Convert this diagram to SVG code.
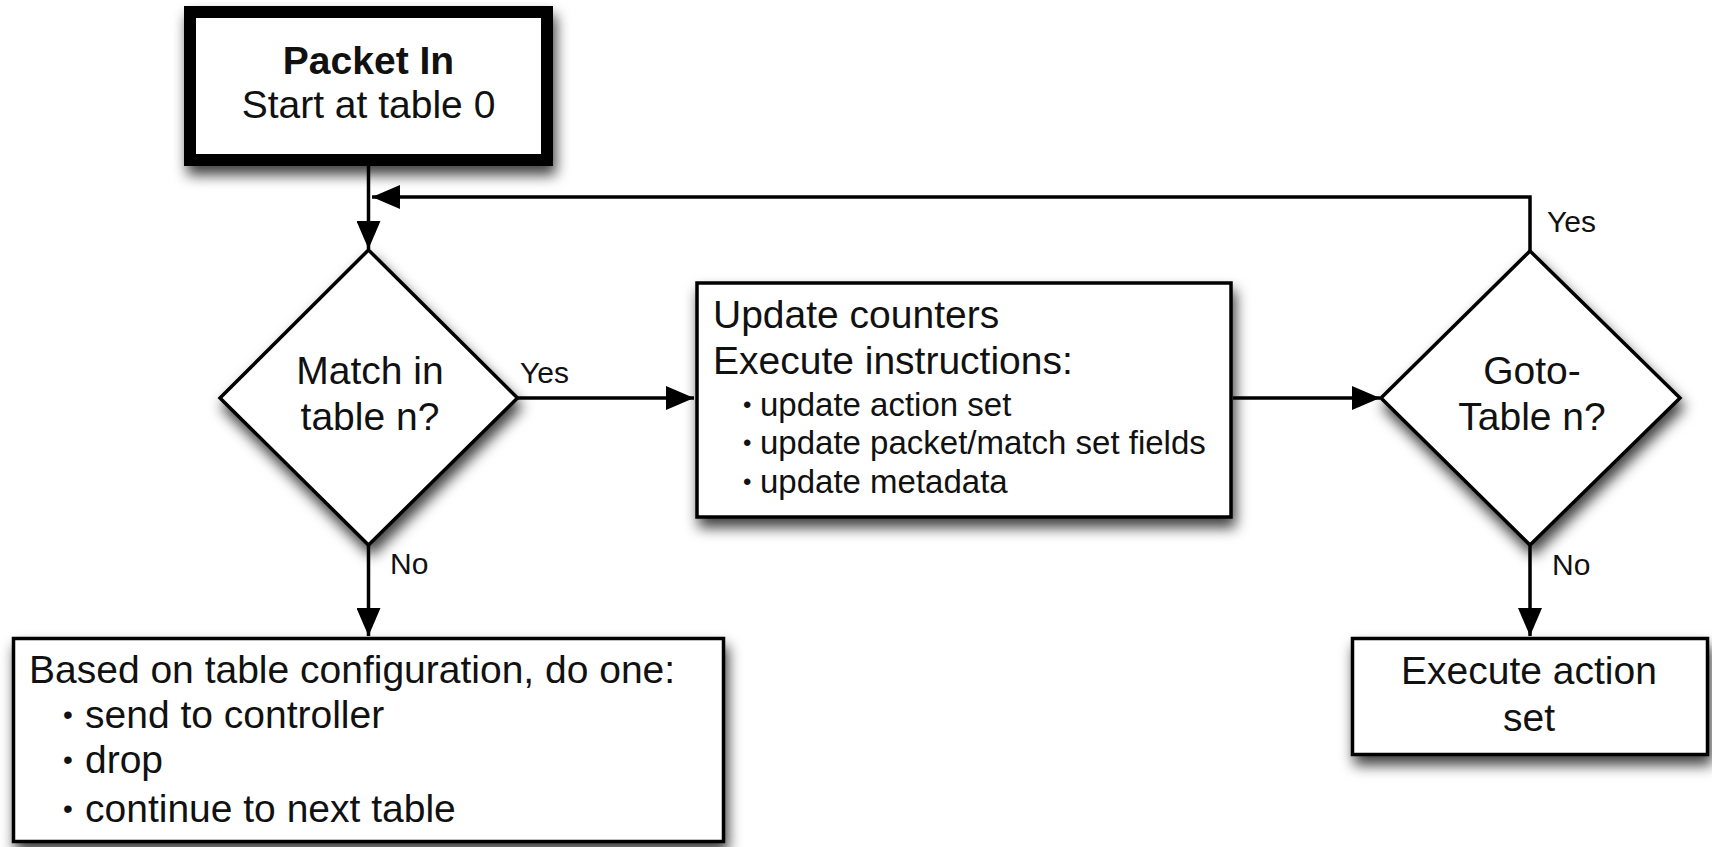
<svg xmlns="http://www.w3.org/2000/svg" width="1712" height="847" viewBox="0 0 1712 847">
<defs>
<style>
.shape{fill:#fff;stroke:#000;stroke-width:3.5;filter:url(#sh)}
.thick{stroke-width:12}
.t{font-family:"Liberation Sans",Arial,Helvetica,sans-serif;font-size:39px;fill:#111}
.b{font-weight:bold}
.c{text-anchor:middle}
.s{font-size:33px}
.dot{font-family:"Liberation Sans",Arial,Helvetica,sans-serif;font-size:28px;fill:#111}
.dots{font-family:"Liberation Sans",Arial,Helvetica,sans-serif;font-size:24px;fill:#111}
.lbl{font-family:"Liberation Sans",Arial,Helvetica,sans-serif;font-size:30px;fill:#111}
.edge{fill:none;stroke:#000;stroke-width:3.5;marker-end:url(#ah)}
</style>
<filter id="sh" x="-20%" y="-20%" width="150%" height="160%">
<feDropShadow dx="3" dy="9" stdDeviation="7" flood-color="#000" flood-opacity="0.75"/>
</filter>
<marker id="ah" markerWidth="28" markerHeight="24" refX="28" refY="12" orient="auto" markerUnits="userSpaceOnUse">
<path d="M0,0 L28,12 L0,24 z" fill="#000"/>
</marker>
</defs>
<rect width="1712" height="847" fill="#fff"/>

<g id="connectors">
<path class="edge" d="M368.5,166 L368.5,249"/>
<path class="edge" d="M517.5,398 L694,398"/>
<path class="edge" d="M1233,398 L1380,398"/>
<path class="edge" d="M1530,251 L1530,197 L372,197"/>
<path class="edge" d="M368.5,545 L368.5,636"/>
<path class="edge" d="M1530,545 L1530,636"/>
<text class="lbl" x="520" y="383">Yes</text>
<text class="lbl" x="1547" y="232">Yes</text>
<text class="lbl" x="390" y="574">No</text>
<text class="lbl" x="1552" y="575">No</text>
</g>

<g id="packet-in">
<rect class="shape thick" x="190" y="12" width="357" height="148"/>
<text class="t b c" x="368.5" y="74">Packet In</text>
<text class="t c" x="368.5" y="118">Start at table 0</text>
</g>

<g id="match">
<polygon class="shape" points="368.5,250 517.5,398 368.5,545 220,398"/>
<text class="t c" x="370" y="384">Match in</text>
<text class="t c" x="370" y="430">table n?</text>
</g>

<g id="update">
<rect class="shape" x="697" y="283" width="534" height="234"/>
<text class="t" x="713" y="328">Update counters</text>
<text class="t" x="713" y="374">Execute instructions:</text>
<text class="dots" x="743" y="413">•</text>
<text class="t s" x="760" y="416">update action set</text>
<text class="dots" x="743" y="451">•</text>
<text class="t s" x="760" y="454">update packet/match set fields</text>
<text class="dots" x="743" y="490">•</text>
<text class="t s" x="760" y="493">update metadata</text>
</g>

<g id="goto">
<polygon class="shape" points="1530,251 1680,398 1530,545 1381,398"/>
<text class="t c" x="1532" y="384">Goto-</text>
<text class="t c" x="1532" y="430">Table n?</text>
</g>

<g id="no-match">
<rect class="shape" x="13.5" y="638.5" width="710" height="203"/>
<text class="t" x="29" y="683">Based on table configuration, do one:</text>
<text class="dot" x="63" y="724">•</text>
<text class="t" x="85" y="728">send to controller</text>
<text class="dot" x="63" y="769">•</text>
<text class="t" x="85" y="773">drop</text>
<text class="dot" x="63" y="818">•</text>
<text class="t" x="85" y="822">continue to next table</text>
</g>

<g id="execute">
<rect class="shape" x="1352.5" y="638.5" width="355" height="116"/>
<text class="t c" x="1529" y="684">Execute action</text>
<text class="t c" x="1529" y="731">set</text>
</g>
</svg>
